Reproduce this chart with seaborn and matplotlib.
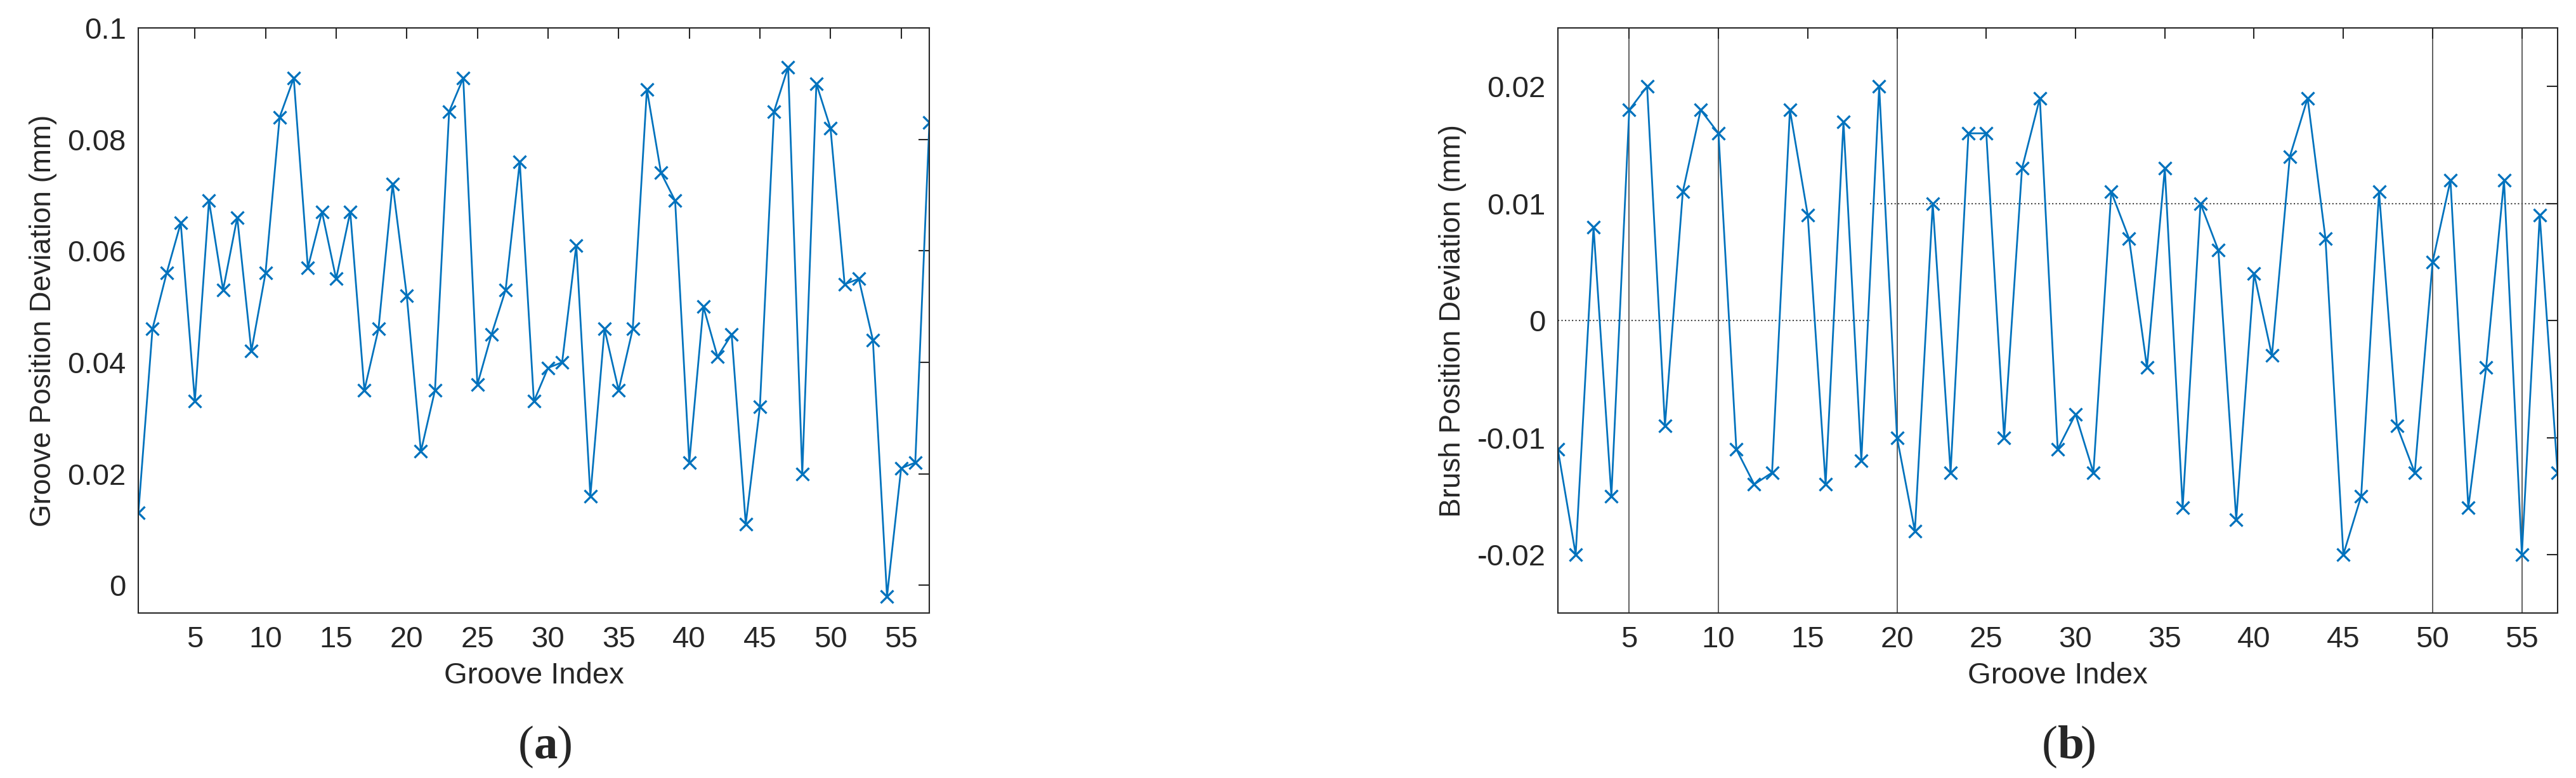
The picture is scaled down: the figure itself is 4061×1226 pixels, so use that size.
import matplotlib
matplotlib.use("Agg")
import matplotlib.pyplot as plt
import seaborn as sns
import pandas as pd
import numpy as np

groove_index = list(range(1, 58))
groove_dev = [0.013, 0.046, 0.056, 0.065, 0.033, 0.069, 0.053, 0.066, 0.042, 0.056,
              0.084, 0.091, 0.057, 0.067, 0.055, 0.067, 0.035, 0.046, 0.072, 0.052,
              0.024, 0.035, 0.085, 0.091, 0.036, 0.045, 0.053, 0.076, 0.033, 0.039,
              0.040, 0.061, 0.016, 0.046, 0.035, 0.046, 0.089, 0.074, 0.069, 0.022,
              0.050, 0.041, 0.045, 0.011, 0.032, 0.085, 0.093, 0.020, 0.090, 0.082,
              0.054, 0.055, 0.044, -0.002, 0.021, 0.022, 0.083]
brush_dev = [-0.011, -0.020, 0.008, -0.015, 0.018, 0.020, -0.009, 0.011, 0.018, 0.016,
             -0.011, -0.014, -0.013, 0.018, 0.009, -0.014, 0.017, -0.012, 0.020, -0.010,
             -0.018, 0.010, -0.013, 0.016, 0.016, -0.010, 0.013, 0.019, -0.011, -0.008,
             -0.013, 0.011, 0.007, -0.004, 0.013, -0.016, 0.010, 0.006, -0.017, 0.004,
             -0.003, 0.014, 0.019, 0.007, -0.020, -0.015, 0.011, -0.009, -0.013, 0.005,
             0.012, -0.016, -0.004, 0.012, -0.020, 0.009, -0.013]
x_ticks = [5, 10, 15, 20, 25, 30, 35, 40, 45, 50, 55]
a_yticks = [0, 0.02, 0.04, 0.06, 0.08, 0.1]
a_yticklabels = ["0", "0.02", "0.04", "0.06", "0.08", "0.1"]
b_yticks = [-0.02, -0.01, 0, 0.01, 0.02]
b_yticklabels = ["-0.02", "-0.01", "0", "0.01", "0.02"]
b_vlines = [5, 10, 20, 50, 55]

sns.set_theme(style="white")
plt.rcParams['font.family'] = ['Liberation Sans', 'DejaVu Sans']

LINE = "#0072BD"
TXT = "#262626"
df = pd.DataFrame({"idx": groove_index, "groove": groove_dev, "brush": brush_dev})

fig = plt.figure(figsize=(40.62, 12.26), dpi=100)
ax_a = fig.add_axes([0.0537, 0.212, 0.307, 0.752])
ax_b = fig.add_axes([0.6046, 0.212, 0.388, 0.752])


def style_axis(ax):
    for s in ax.spines.values():
        s.set_color(TXT)
        s.set_linewidth(1.5)
    ax.tick_params(direction="in", length=12, width=1.5, top=True, right=True,
                   labelsize=34, pad=14, colors=TXT)
    ax.set_xticks(x_ticks)
    ax.set_xlim(1, 57)
    ax.set_xlabel("Groove Index", fontsize=34, color=TXT, labelpad=10)


# (a) groove deviation
sns.lineplot(data=df, x="idx", y="groove", ax=ax_a, color=LINE, marker="x",
             markersize=14, markeredgewidth=2.4, markeredgecolor=LINE, linewidth=2)
style_axis(ax_a)
ax_a.set_ylim(-0.005, 0.1)
ax_a.set_yticks(a_yticks)
ax_a.set_yticklabels(a_yticklabels)
ax_a.set_ylabel("Groove Position Deviation (mm)", fontsize=33, color=TXT, labelpad=12)

# (b) brush deviation
for v in b_vlines:
    ax_b.axvline(v, color="#444444", linewidth=1.2, zorder=0)
ax_b.hlines(0, 1, 18.5, color="#444444", linewidth=1.5, linestyle=":", zorder=0)
ax_b.hlines(0.01, 18.5, 57, color="#444444", linewidth=1.5, linestyle=":", zorder=0)
sns.lineplot(data=df, x="idx", y="brush", ax=ax_b, color=LINE, marker="x",
             markersize=14, markeredgewidth=2.4, markeredgecolor=LINE, linewidth=2)
style_axis(ax_b)
ax_b.set_ylim(-0.025, 0.025)
ax_b.set_yticks(b_yticks)
ax_b.set_yticklabels(b_yticklabels)
ax_b.set_ylabel("Brush Position Deviation (mm)", fontsize=33, color=TXT, labelpad=12)

# panel captions
for ax, letter in [(ax_a, "a"), (ax_b, "b")]:
    cx = ax.get_position().x0 + ax.get_position().width / 2
    fig.text(cx, 0.04, "(", fontsize=54, family="Liberation Serif", ha="right", va="center")
    fig.text(cx, 0.04, letter, fontsize=54, family="Liberation Serif", weight="bold",
             ha="left", va="center")
    fig.text(cx + 0.0088, 0.04, ")", fontsize=54, family="Liberation Serif", ha="left", va="center")

fig.savefig("out.png", dpi=100)
